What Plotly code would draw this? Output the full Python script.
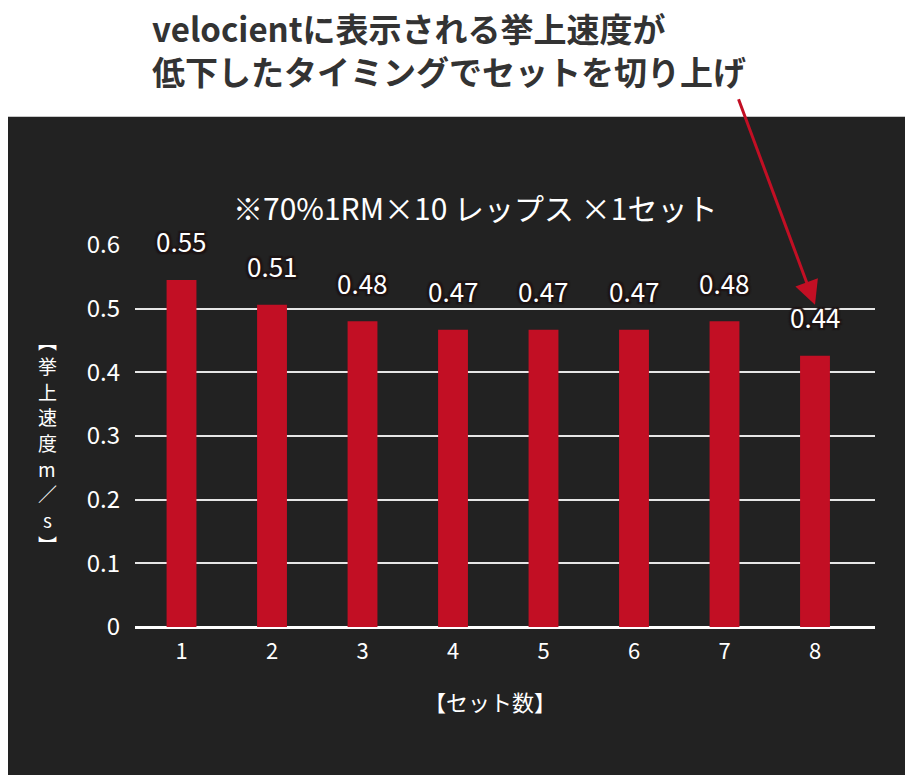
import plotly.graph_objects as go

# ── data ─────────────────────────────────────────────────────────────────
sets = [1, 2, 3, 4, 5, 6, 7, 8]
set_labels = ["1", "2", "3", "4", "5", "6", "7", "8"]
speeds = [0.545, 0.506, 0.480, 0.467, 0.467, 0.467, 0.480, 0.426]
speed_labels = ["0.55", "0.51", "0.48", "0.47", "0.47", "0.47", "0.48", "0.44"]
y_ticks = [0, 0.1, 0.2, 0.3, 0.4, 0.5, 0.6]
y_tick_text = ["0", "0.1", "0.2", "0.3", "0.4", "0.5", "0.6"]

headline = ["velocientに表示される挙上速度が", "低下したタイミングでセットを切り上げ"]
subtitle = "※70%1RM×10 レップス ×1セット"
y_title_chars = ["︻", "挙", "上", "速", "度", "m", "／", "s", "︼"]
x_title = "【セット数】"

RED = "#c20f24"
DARK = "#222222"
FONT = "Noto Sans CJK JP"
HALO = ("-2px -2px 1px #1e1414, 2px -2px 1px #1e1414, -2px 2px 1px #1e1414, "
        "2px 2px 1px #1e1414, 0 0 3px #1e1414")

fig = go.Figure()
fig.add_trace(go.Bar(
    x=sets, y=speeds, marker=dict(color=RED, line=dict(width=0)),
    hoverinfo="skip",
))

# dark panel below the white header strip
fig.add_shape(type="rect", xref="paper", yref="paper",
              x0=-0.3, x1=1.2, y0=-0.6, y1=1.3322,
              fillcolor=DARK, line=dict(width=0), layer="below")

annotations = []
# value labels above each bar
for s, v, lab in zip(sets, speeds, speed_labels):
    annotations.append(dict(
        x=s, y=v, xref="x", yref="y", text=lab, showarrow=False,
        yanchor="middle", yshift=39,
        font=dict(family=FONT, size=26, color="white", shadow=HALO),
    ))

# headline (two lines, bold, dark grey on white)
annotations.append(dict(
    x=0.0203, y=1.5084, xref="paper", yref="paper",
    text="<br>".join(f"<b>{line}</b>" for line in headline),
    showarrow=False, xanchor="left", yanchor="middle", align="left",
    font=dict(family=FONT, size=33, color="#333333"),
))

annotations.append(dict(
    x=0.4595, y=1.0973, xref="paper", yref="paper", text=subtitle,
    showarrow=False, xanchor="center", yanchor="middle",
    font=dict(family=FONT, size=30, color="white"),
))

# vertical y-axis title, one glyph per line
mid = (len(y_title_chars) - 1) / 2
for i, ch in enumerate(y_title_chars):
    annotations.append(dict(
        x=-0.1189, y=0.4815, xref="paper", yref="paper", text=ch,
        showarrow=False, xanchor="center", yanchor="middle",
        yshift=(mid - i) * 25.6,
        font=dict(family=FONT, size=19, color="white"),
    ))

annotations.append(dict(
    x=0.4797, y=-0.1944, xref="paper", yref="paper", text=x_title,
    showarrow=False, xanchor="center", yanchor="middle",
    font=dict(family=FONT, size=22, color="white"),
))

# red arrow pointing at set 8
annotations.append(dict(
    x=sets[-1], y=0.506, xref="x", yref="y", text="", showarrow=True,
    ax=-77, ay=-207, arrowcolor=RED, arrowwidth=3, arrowhead=2, arrowsize=1.6,
))

fig.update_layout(
    width=913, height=775,
    margin=dict(l=127, r=46, t=236.3, b=155.5),
    paper_bgcolor="white", plot_bgcolor=DARK,
    showlegend=False, bargap=0.67,
    annotations=annotations,
    font=dict(family=FONT, color="white"),
    xaxis=dict(
        range=[0.486, 8.663], tickvals=sets, ticktext=set_labels,
        showgrid=False, zeroline=False, showline=False,
        ticks="", tickfont=dict(family=FONT, size=22, color="white"),
        ticklabelstandoff=9,
    ),
    yaxis=dict(
        range=[0, 0.6015], tickvals=y_ticks, ticktext=y_tick_text,
        showgrid=True, gridcolor="#e6e6e6", gridwidth=2,
        zeroline=True, zerolinecolor="white", zerolinewidth=3,
        showline=False, ticks="",
        tickfont=dict(family=FONT, size=24, color="white"),
        ticklabelstandoff=14,
    ),
)

fig.write_html("out.html")
